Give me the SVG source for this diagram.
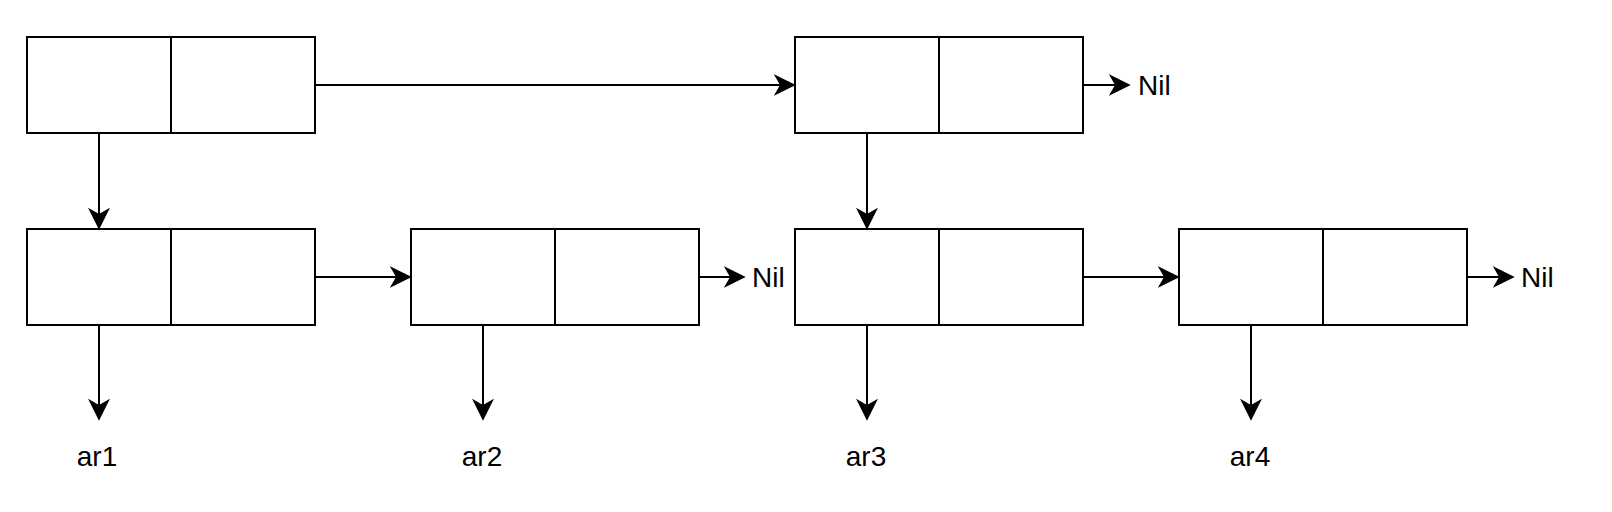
<svg xmlns="http://www.w3.org/2000/svg" width="1612" height="512" viewBox="0 0 1612 512">
<style>
.box{fill:#fff;stroke:#000;stroke-width:2}
.div{stroke:#000;stroke-width:2}
.edge{stroke:#000;stroke-width:2;fill:none;marker-end:url(#arr)}
.lbl{font-family:"Liberation Sans",Helvetica,Arial,sans-serif;font-size:28px;fill:#000}
</style>
<defs>
<marker id="arr" markerUnits="userSpaceOnUse" markerWidth="22" markerHeight="22" viewBox="0 0 21 21" refX="6" refY="10.5" orient="auto">
<path d="M21,10.5 L0,0 L6,10.5 L0,21 Z" fill="#000"/>
</marker>
</defs>
<rect width="1612" height="512" fill="#fff"/>
<g id="connectors">
<line class="edge" x1="315" y1="85" x2="780" y2="85"/>
<line class="edge" x1="1083" y1="85" x2="1115" y2="85"/>
<line class="edge" x1="99" y1="133" x2="99" y2="214"/>
<line class="edge" x1="867" y1="133" x2="867" y2="214"/>
<line class="edge" x1="315" y1="277" x2="396" y2="277"/>
<line class="edge" x1="699" y1="277" x2="730" y2="277"/>
<line class="edge" x1="1083" y1="277" x2="1164" y2="277"/>
<line class="edge" x1="1467" y1="277" x2="1499" y2="277"/>
<line class="edge" x1="99" y1="325" x2="99" y2="405"/>
<line class="edge" x1="483" y1="325" x2="483" y2="405"/>
<line class="edge" x1="867" y1="325" x2="867" y2="405"/>
<line class="edge" x1="1251" y1="325" x2="1251" y2="405"/>
</g>
<g id="top1"><rect class="box" x="27" y="37" width="288" height="96"/><line class="div" x1="171" y1="37" x2="171" y2="133"/></g>
<g id="top2"><rect class="box" x="795" y="37" width="288" height="96"/><line class="div" x1="939" y1="37" x2="939" y2="133"/></g>
<g id="node1"><rect class="box" x="27" y="229" width="288" height="96"/><line class="div" x1="171" y1="229" x2="171" y2="325"/></g>
<g id="node2"><rect class="box" x="411" y="229" width="288" height="96"/><line class="div" x1="555" y1="229" x2="555" y2="325"/></g>
<g id="node3"><rect class="box" x="795" y="229" width="288" height="96"/><line class="div" x1="939" y1="229" x2="939" y2="325"/></g>
<g id="node4"><rect class="box" x="1179" y="229" width="288" height="96"/><line class="div" x1="1323" y1="229" x2="1323" y2="325"/></g>
<g id="nil-top"><text class="lbl" x="1138" y="95">Nil</text></g>
<g id="nil2"><text class="lbl" x="752" y="287">Nil</text></g>
<g id="nil4"><text class="lbl" x="1521" y="287">Nil</text></g>
<g id="ar1"><text class="lbl" x="97" y="466" text-anchor="middle">ar1</text></g>
<g id="ar2"><text class="lbl" x="482" y="466" text-anchor="middle">ar2</text></g>
<g id="ar3"><text class="lbl" x="866" y="466" text-anchor="middle">ar3</text></g>
<g id="ar4"><text class="lbl" x="1250" y="466" text-anchor="middle">ar4</text></g>
</svg>
